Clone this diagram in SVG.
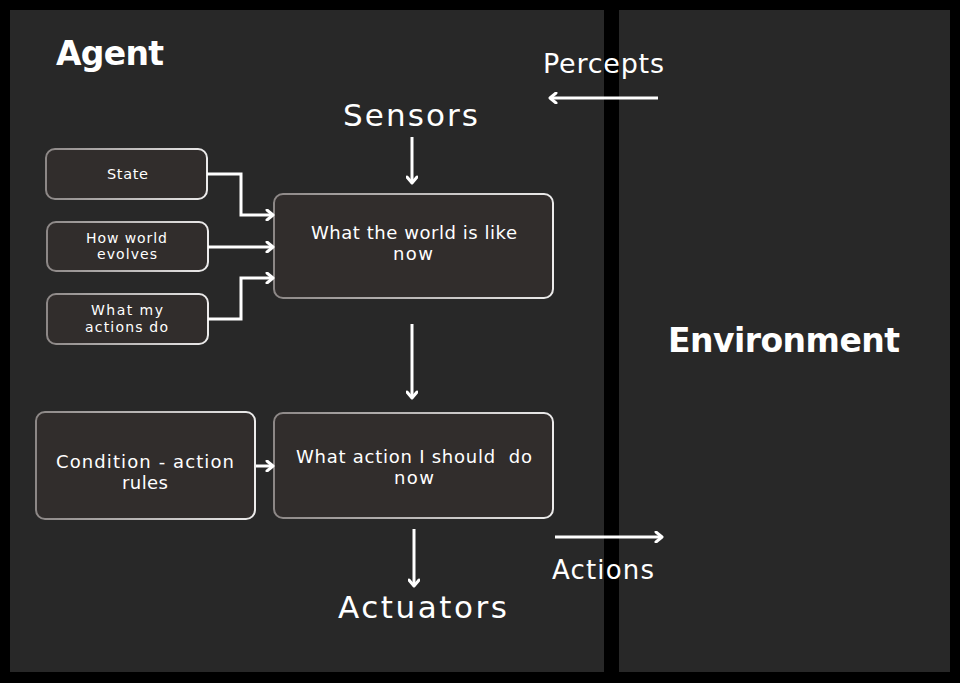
<svg xmlns="http://www.w3.org/2000/svg" width="960" height="683" viewBox="0 0 960 683">
<style>
.panel{fill:#282828}
.box{fill:#312d2c;stroke:url(#bstroke);stroke-width:2}
.t{font-family:"DejaVu Sans","Open Sans",sans-serif;fill:#ffffff;text-anchor:middle}
.h{font-family:"DejaVu Sans","Open Sans",sans-serif;fill:#ffffff;font-weight:700}
.c{fill:none;stroke:#ffffff;stroke-width:3;stroke-linejoin:miter}
</style>
<defs>
<linearGradient id="bstroke" x1="0" y1="0" x2="1" y2="0">
<stop offset="0" stop-color="#8c8786"/>
<stop offset="1" stop-color="#ecebeb"/>
</linearGradient>
<marker id="ah" viewBox="0 0 10 12" refX="8" refY="6" markerWidth="10" markerHeight="12" markerUnits="userSpaceOnUse" orient="auto">
<path d="M2,1 L8,6 L2,11" fill="none" stroke="#ffffff" stroke-width="3" stroke-linecap="round" stroke-linejoin="round"/>
</marker>
</defs>
<rect width="960" height="683" fill="#000000"/>
<rect class="panel" x="10" y="10" width="594" height="662"/>
<rect class="panel" x="619" y="10" width="331" height="662"/>

<g id="labels">
<text class="h" x="56" y="65" font-size="33" textLength="108">Agent</text>
<text class="h" x="668" y="352" font-size="33" textLength="232">Environment</text>
<text class="t" x="410.5" y="126" font-size="31" textLength="135">Sensors</text>
<text class="t" x="603.5" y="73" font-size="27" textLength="121">Percepts</text>
<text class="t" x="422.5" y="618" font-size="31" textLength="169">Actuators</text>
<text class="t" x="603" y="579" font-size="26" textLength="102">Actions</text>
</g>

<g id="state">
<rect class="box" x="46" y="149" width="161" height="50" rx="9"/>
<text class="t" x="127.5" y="179" font-size="14.5" textLength="41">State</text>
</g>
<g id="how-world-evolves">
<rect class="box" x="47" y="222" width="161" height="49" rx="9"/>
<text class="t" x="126.5" y="243" font-size="14" textLength="81">How world</text>
<text class="t" x="127" y="259" font-size="14" textLength="60">evolves</text>
</g>
<g id="what-my-actions-do">
<rect class="box" x="47" y="294" width="161" height="50" rx="9"/>
<text class="t" x="127" y="315" font-size="14" textLength="72">What my</text>
<text class="t" x="126.5" y="332" font-size="14" textLength="83">actions do</text>
</g>
<g id="world-now">
<rect class="box" x="274" y="194" width="279" height="104" rx="9"/>
<text class="t" x="414" y="239" font-size="18" textLength="206">What the world is like</text>
<text class="t" x="413" y="260" font-size="18" textLength="40">now</text>
</g>
<g id="condition-action-rules">
<rect class="box" x="36" y="412" width="219" height="107" rx="9"/>
<text class="t" x="145" y="468" font-size="18" textLength="178">Condition - action</text>
<text class="t" x="145" y="489" font-size="18" textLength="46">rules</text>
</g>
<g id="action-now">
<rect class="box" x="274" y="413" width="279" height="105" rx="9"/>
<text class="t" x="414" y="463" font-size="18" textLength="236" xml:space="preserve">What action I should  do</text>
<text class="t" x="414" y="484" font-size="18" textLength="40">now</text>
</g>

<g id="connectors">
<path class="c" d="M207,174 H241 V215 H273" marker-end="url(#ah)"/>
<path class="c" d="M208,247 H273" marker-end="url(#ah)"/>
<path class="c" d="M208,319 H241 V278 H273" marker-end="url(#ah)"/>
<path class="c" d="M412,137 V183" marker-end="url(#ah)"/>
<path class="c" d="M412,324 V398" marker-end="url(#ah)"/>
<path class="c" d="M256,466 H273" marker-end="url(#ah)"/>
<path class="c" d="M414,529 V586" marker-end="url(#ah)"/>
<path class="c" d="M658,98 H550" marker-end="url(#ah)"/>
<path class="c" d="M555,537 H662" marker-end="url(#ah)"/>
</g>
</svg>
